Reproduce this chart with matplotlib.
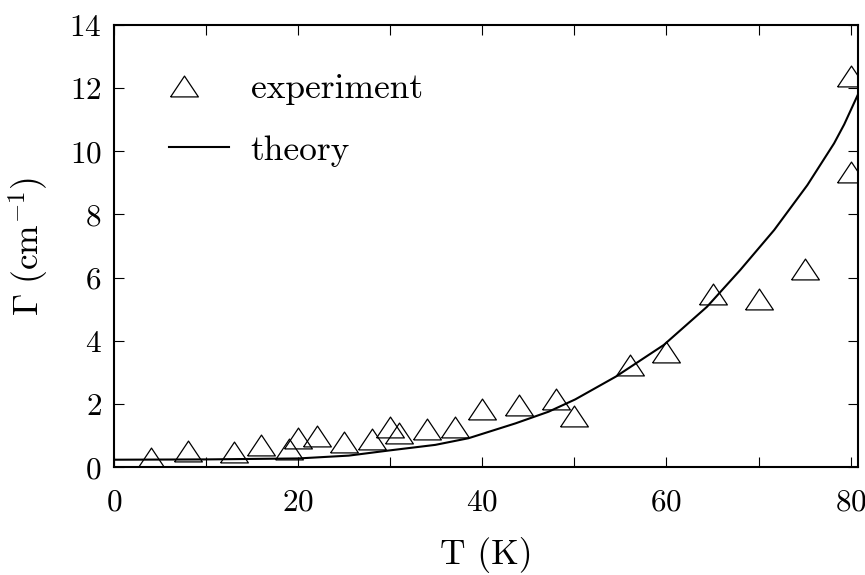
#!/usr/bin/env python

import numpy as np
import matplotlib
matplotlib.use("Agg")
import matplotlib.pyplot as plt
from matplotlib.lines import Line2D
from matplotlib.ticker import MultipleLocator
from matplotlib.legend_handler import HandlerLine2DCompound
from matplotlib.transforms import ScaledTranslation

T_exp = [4, 8, 13, 16, 19, 20, 22, 25, 28, 30, 31, 34,
         37, 40, 44, 48, 50, 56, 60, 65, 70, 75, 80, 80]
G_exp = [0.31, 0.52, 0.50, 0.71, 0.57, 0.93, 1.00, 0.79, 0.90, 1.28, 1.07, 1.20,
         1.26, 1.83, 1.97, 2.15, 1.62, 3.23, 3.64, 5.48, 5.34, 6.26, 12.38, 9.36]

# theory curve, sampled off the figure
T_th = [0.0, 10.1, 20.0, 25.5, 29.8, 34.9, 38.5, 43.6, 47.2, 50.1, 54.5, 59.7,
        64.4, 68.0, 71.7, 75.3, 78.2, 79.3, 80.8]
G_th = [0.24, 0.25, 0.28, 0.37, 0.53, 0.71, 0.92, 1.39, 1.76, 2.15, 2.87, 3.87,
        5.08, 6.24, 7.51, 8.93, 10.25, 10.85, 11.80]


#legend handler that puts the single marker left of centre
class LeftMarker(HandlerLine2DCompound):
    def get_xdata(self, legend, xdescent, ydescent, width, height, fontsize):
        xdata = np.array([-xdescent, -xdescent + width])
        return xdata, np.array([-xdescent + 0.24 * width])


plt.rcParams['font.family'] = 'serif'
plt.rcParams['font.serif'] = ['cmr10']
plt.rcParams['mathtext.fontset'] = 'cm'
plt.rcParams['axes.formatter.use_mathtext'] = True

#wide, flat triangle like the original marker
tri = [(-1.0, -0.75), (1.0, -0.75), (0.0, 0.75), (-1.0, -0.75)]

fig = plt.figure(figsize=(8.65, 5.75), dpi=100)
ax = fig.add_axes([0.1318, 0.1873, 0.8601, 0.7694])

ax.plot(T_exp, G_exp, linestyle="none", marker=tri, markersize=20,
        markerfacecolor="none", markeredgecolor="k", markeredgewidth=0.9,
        label="experiment")
ax.plot(T_th, G_th, "k-", linewidth=1.5, label="theory")

ax.set_xlim(0, 80.8)
ax.set_ylim(0, 14)
ax.xaxis.set_major_locator(MultipleLocator(20))
ax.xaxis.set_minor_locator(MultipleLocator(10))
ax.yaxis.set_major_locator(MultipleLocator(2))

ax.tick_params(which="both", direction="in", top=True, right=True,
               length=7, width=0.8, labelsize=22.5)
ax.tick_params(axis="x", pad=15)
ax.tick_params(axis="y", pad=9)
for s in ax.spines.values():
    s.set_linewidth(1.5)

ax.set_xlabel("T (K)", fontsize=25.5, labelpad=15)
ax.set_ylabel(r"$\Gamma\ (\mathrm{cm}^{-1})$", fontsize=25.5, labelpad=14)

ax.legend(loc="upper left", bbox_to_anchor=(0.055, 0.923), borderaxespad=0,
          frameon=False, numpoints=1, fontsize=25.5,
          handlelength=1.7, handletextpad=0.6, labelspacing=0.85,
          handler_map={Line2D: LeftMarker()})

#nudge the last x label in a little, as in the original
fig.canvas.draw()
for t in ax.xaxis.get_major_ticks():
    if t.label1.get_text() == "80":
        lab = t.label1
        lab.set_transform(lab.get_transform() + ScaledTranslation(-4 / 72, 0, fig.dpi_scale_trans))

fig.savefig("out.png", dpi=100)
